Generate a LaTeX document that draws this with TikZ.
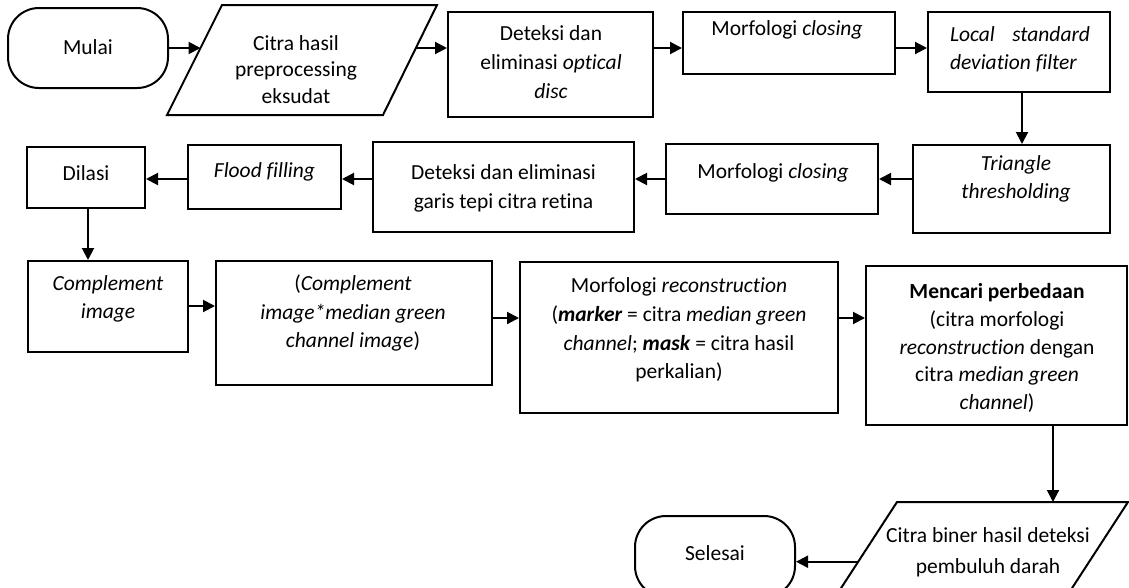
\documentclass[tikz,border=0pt]{standalone}
\usepackage{fontspec}
\setmainfont{Carlito}[Ligatures=NoCommon]
\usetikzlibrary{arrows.meta}
\begin{document}
\begin{tikzpicture}[x=1pt,y=-1pt,
  proc/.style={draw, line width=2pt, inner sep=0pt, rectangle},
  term/.style={proc, rounded corners=31pt},
  txt/.style={align=center, inner sep=0pt, font=\fontsize{21.5}{28}\selectfont},
  arr/.style={-{Triangle[length=12pt,width=12pt]}, line width=2pt},
  pgram/.style={line width=2pt, line join=miter}]
\path[use as bounding box] (0,0) rectangle (1129,587);
\clip (0,0) rectangle (1129,587);
% helper coordinates
\coordinate (r1) at (0,48);
\coordinate (r2) at (0,179);
\coordinate (r3) at (0,318);
\coordinate (r4) at (0,306);
\coordinate (c1) at (1022,0);
\coordinate (c2) at (88,0);
\coordinate (c3) at (1053,0);
% row 1
\node[term, minimum width=160pt, minimum height=80pt] (mulai) at (88,48) {};
\node[txt] (tmulai) at (88,47) {Mulai};
\coordinate (p1tl) at (222,5);
\coordinate (p1tr) at (437,5);
\coordinate (p1br) at (383,115);
\coordinate (p1bl) at (167,115);
\draw[pgram] (p1tl) -- (p1tr) -- (p1br) -- (p1bl) -- cycle;
\coordinate (p1in) at (200.5,48);
\coordinate (p1out) at (415.5,48);
\node[txt, font=\fontsize{21.5}{26.7}\selectfont] (tp1) at (296,69.5) {Citra hasil\\preprocessing\\eksudat};
\node[proc, minimum width=205pt, minimum height=105pt] (det1) at (550.5,64.5) {};
\node[txt, font=\fontsize{21.5}{29}\selectfont] (tdet1) at (551,62.5) {Deteksi dan\\eliminasi \textit{optical}\\\textit{disc}};
\node[proc, minimum width=212pt, minimum height=62pt] (mor1) at (789,43) {};
\node[txt] (tmor1) at (787,30) {Morfologi \textit{closing}};
\node[proc, minimum width=182pt, minimum height=80pt] (local) at (1019,52) {};
\node[txt] (tlocal) at (1020,49) {\parbox{140pt}{\itshape Local\hfill standard\\deviation filter}};
% row 2
\node[proc, minimum width=197pt, minimum height=88pt] (tri) at (1011.5,189) {};
\node[txt] (ttri) at (1016,179) {\textit{Triangle}\\\textit{thresholding}};
\node[proc, minimum width=212pt, minimum height=70pt] (mor2) at (772,179) {};
\node[txt] (tmor2) at (773,173) {Morfologi \textit{closing}};
\node[proc, minimum width=261pt, minimum height=90pt] (det2) at (503.5,187) {};
\node[txt, font=\fontsize{21.5}{29}\selectfont] (tdet2) at (503.5,188.5) {Deteksi dan eliminasi\\garis tepi citra retina};
\node[proc, minimum width=153pt, minimum height=64pt] (flood) at (264.5,177) {};
\node[txt] (tflood) at (264.5,172) {\textit{Flood filling}};
\node[proc, minimum width=118pt, minimum height=61pt] (dilasi) at (86,177.5) {};
\node[txt] (tdilasi) at (86,173) {Dilasi};
% row 3
\node[proc, minimum width=160pt, minimum height=91pt] (comp) at (108,306.5) {};
\node[txt] (tcomp) at (108,299) {\textit{Complement}\\\textit{image}};
\node[proc, minimum width=276pt, minimum height=124pt] (mult) at (354,323) {};
\node[txt, font=\fontsize{21.5}{28.5}\selectfont] (tmult) at (353,313) {(\textit{Complement}\\\textit{image*median green}\\\textit{channel image})};
\node[proc, minimum width=318pt, minimum height=151pt] (recon) at (679,337.5) {};
\node[txt, font=\fontsize{21.5}{28.7}\selectfont] (trecon) at (679,330) {Morfologi \textit{reconstruction}\\(\textbf{\textit{marker}} = citra \textit{median green}\\\textit{channel}; \textbf{\textit{mask}} = citra hasil\\perkalian)};
\node[proc, minimum width=261pt, minimum height=159pt] (diff) at (996.5,345.5) {};
\node[txt, font=\fontsize{21.5}{27.6}\selectfont] (tdiff) at (997,348) {\textbf{Mencari perbedaan}\\(citra morfologi\\\textit{reconstruction} dengan\\citra \textit{median green}\\\textit{channel})};
% bottom
\coordinate (p2tl) at (897,502);
\coordinate (p2tr) at (1128,502);
\coordinate (p2br) at (1056.5,612);
\coordinate (p2bl) at (825.5,612);
\draw[pgram] (p2tl) -- (p2tr) -- (p2br) -- (p2bl) -- cycle;
\coordinate (p2top) at (1053,502);
\coordinate (p2left) at (858,561.7);
\node[txt, font=\fontsize{21.5}{31}\selectfont] (tp2) at (988,552) {Citra biner hasil deteksi\\pembuluh darah};
\node[term, minimum width=160pt, minimum height=81pt] (selesai) at (715,556.5) {};
\node[txt] (tsel) at (715,553) {Selesai};
% connectors
\draw[arr] (mulai.east) -- (p1in);
\draw[arr] (p1out) -- (p1out -| det1.west);
\draw[arr] (det1.east |- r1) -- (mor1.west |- r1);
\draw[arr] (mor1.east |- r1) -- (local.west |- r1);
\draw[arr] (local.south -| c1) -- (tri.north -| c1);
\draw[arr] (tri.west |- r2) -- (mor2.east |- r2);
\draw[arr] (mor2.west |- r2) -- (det2.east |- r2);
\draw[arr] (det2.west |- r2) -- (flood.east |- r2);
\draw[arr] (flood.west |- r2) -- (dilasi.east |- r2);
\draw[arr] (dilasi.south -| c2) -- (comp.north -| c2);
\draw[arr] (comp.east |- r4) -- (mult.west |- r4);
\draw[arr] (mult.east |- r3) -- (recon.west |- r3);
\draw[arr] (recon.east |- r3) -- (diff.west |- r3);
\draw[arr] (diff.south -| c3) -- (p2top);
\draw[arr] (p2left) -- (p2left -| selesai.east);
\end{tikzpicture}
\end{document}
